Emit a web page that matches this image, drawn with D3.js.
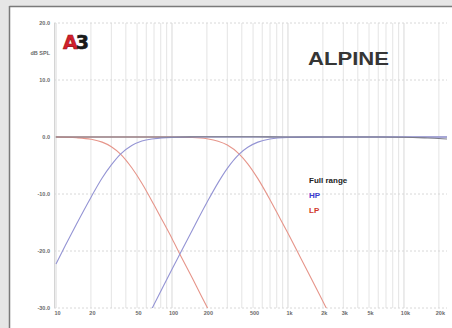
<!DOCTYPE html>
<html><head><meta charset="utf-8">
<script src="https://cdn.jsdelivr.net/npm/d3@7"></script>
<style>
html,body{margin:0;padding:0;background:#e6e6e6;}
svg{display:block;font-family:"Liberation Sans",Arial,sans-serif;}
</style></head>
<body>
<svg id="c" width="452" height="328"></svg>
<script>
// ---- data ----
const yTicks = [20, 10, 0, -10, -20, -30];
const yTickLabels = ["20.0", "10.0", "0.0", "-10.0", "-20.0", "-30.0"];
const xTicks = [10, 20, 50, 100, 200, 500, 1000, 2000, 3000, 5000, 10000, 20000];
const xTickLabels = ["10", "20", "50", "100", "200", "500", "1k", "2k", "3k", "5k", "10k", "20k"];
const gridFreqs = [10,20,30,40,50,60,70,80,90,100,200,300,400,500,600,700,800,900,
                   1000,2000,3000,4000,5000,6000,7000,8000,9000,10000,20000];

const fullFreq = [10, 20, 50, 100, 200, 500, 1000, 2000, 5000, 10000, 15000, 20000, 23500];
const fullDb   = [0.0, 0.0, 0.0, 0.0, 0.05, 0.05, 0.0, 0.0, 0.0, -0.05, -0.15, -0.25, -0.35];

const lp1Freq = [10, 15, 20, 25, 30, 36, 45, 55, 70, 85, 100, 120, 150, 180, 200, 220];
const lp1Db   = [0.0, -0.13, -0.4, -0.9, -1.7, -3.0, -5.4, -8.1, -11.9, -15.1, -17.8, -21.0, -24.8, -28.0, -29.8, -31.4];

const hp1Freq = [10, 12, 15, 20, 25, 30, 36, 45, 55, 70, 100, 150, 300, 1000, 5000, 23500];
const hp1Db   = [-22.3, -19.1, -15.3, -10.6, -7.2, -4.9, -3.0, -1.5, -0.7, -0.3, -0.07, -0.01, 0, 0, 0, 0];

const lp2Freq = [10, 50, 100, 150, 200, 250, 300, 380, 450, 550, 700, 850, 1000, 1300, 1700, 2100, 2400];
const lp2Db   = [0, 0, -0.02, -0.1, -0.32, -0.75, -1.42, -3.0, -4.7, -7.3, -11.0, -14.2, -16.9, -21.4, -26.0, -29.7, -32.0];

const hp2Freq = [60, 70, 85, 100, 120, 150, 200, 250, 300, 380, 450, 550, 700, 1000, 1500, 3000, 10000, 23500];
const hp2Db   = [-32.1, -29.4, -26.0, -23.2, -20.1, -16.3, -11.5, -8.0, -5.5, -3.0, -1.8, -0.9, -0.36, -0.09, -0.02, 0, 0, 0];

const legendNames = ["Full range", "HP", "LP"];
const legendColors = ["#222222", "#3b3bd0", "#d03a2a"];

// ---- drawing ----
const svg = d3.select("#c");
const W = 452, H = 328;
const x = d3.scaleLog().domain([10, 23500]).range([56, 447]);
const y = d3.scaleLinear().domain([-30, 20]).range([308, 23]);

// panel
svg.append("rect").attr("x", 0).attr("y", 0).attr("width", W).attr("height", H).attr("fill", "#e6e6e6");
svg.append("rect").attr("x", 10).attr("y", 7).attr("width", W - 10).attr("height", H - 7).attr("fill", "#ffffff");
svg.append("line").attr("x1", 9.5).attr("x2", W).attr("y1", 6.5).attr("y2", 6.5).attr("stroke", "#7a7a7a").attr("stroke-width", 1.5);
svg.append("line").attr("x1", 9.5).attr("x2", 9.5).attr("y1", 6).attr("y2", H).attr("stroke", "#7a7a7a").attr("stroke-width", 1.5);

const g = svg.append("g");

// vertical grid
g.selectAll("line.vg").data(gridFreqs).join("line")
  .attr("x1", d => x(d)).attr("x2", d => x(d))
  .attr("y1", y(20)).attr("y2", y(-30))
  .attr("stroke", d => [10,100,1000,10000].includes(d) ? "#d8d8d8" : "#e4e4e4")
  .attr("stroke-width", 1);

// horizontal grid
g.selectAll("line.hg").data(yTicks).join("line")
  .attr("x1", x(10) - 2).attr("x2", x(23500))
  .attr("y1", d => y(d)).attr("y2", d => y(d))
  .attr("stroke", d => d === 0 ? "#bdbdbd" : "#d8d8d8")
  .attr("stroke-dasharray", d => d === 0 ? null : "2,2")
  .attr("stroke-width", 1);

// left axis line
g.append("line").attr("x1", x(10) - 1.5).attr("x2", x(10) - 1.5).attr("y1", y(20)).attr("y2", y(-30))
  .attr("stroke", "#d4d4d4");

// y labels
g.selectAll("text.yl").data(yTicks).join("text")
  .attr("x", 50).attr("y", d => y(d) + 2)
  .attr("text-anchor", "end").attr("font-size", 5.5).attr("font-weight", "bold").attr("fill", "#6a6a6a")
  .text((d, i) => yTickLabels[i]);
g.append("text").attr("x", 50).attr("y", 55).attr("text-anchor", "end")
  .attr("font-size", 5.5).attr("font-weight", "bold").attr("fill", "#6a6a6a").text("dB SPL");

// x labels
g.selectAll("text.xl").data(xTicks).join("text")
  .attr("x", d => x(d) + 1.5).attr("y", 315)
  .attr("text-anchor", "middle").attr("font-size", 5.5).attr("font-weight", "bold").attr("fill", "#6a6a6a")
  .text((d, i) => xTickLabels[i]);

// clip
svg.append("clipPath").attr("id", "clip").append("rect")
  .attr("x", x(10) - 1).attr("y", y(20)).attr("width", x(23500) - x(10) + 1).attr("height", y(-30) - y(20));

const line = d3.line().x(d => x(d[0])).y(d => y(d[1])).curve(d3.curveMonotoneX);
const zip = (a, b) => a.map((v, i) => [v, b[i]]);
const curves = [
  {pts: zip(lp1Freq, lp1Db), color: "#e6958a"},
  {pts: zip(lp2Freq, lp2Db), color: "#e6958a"},
  {pts: zip(hp1Freq, hp1Db), color: "#9494d4"},
  {pts: zip(hp2Freq, hp2Db), color: "#9494d4"},
  {pts: zip(fullFreq, fullDb), color: "#7a7a88"}
];
const cg = svg.append("g").attr("clip-path", "url(#clip)");
cg.selectAll("path").data(curves).join("path")
  .attr("d", d => line(d.pts)).attr("fill", "none")
  .attr("stroke", d => d.color).attr("stroke-width", 1.1);

// A3 logo
const logo = svg.append("text").attr("x", 63).attr("y", 49)
  .attr("font-family", "'DejaVu Sans', sans-serif").attr("font-size", 19).attr("font-weight", "bold")
  .attr("letter-spacing", -2).attr("stroke-width", 0.6);
logo.append("tspan").attr("fill", "#d3202c").attr("stroke", "#9a1018").text("A");
logo.append("tspan").attr("fill", "#1a1a1a").attr("stroke", "#1a1a1a").text("3");

// ALPINE
svg.append("text").attr("x", 308).attr("y", 65).attr("font-size", 18).attr("font-weight", "bold")
  .attr("fill", "#353535").attr("textLength", 81).attr("lengthAdjust", "spacingAndGlyphs").text("ALPINE");

// legend
svg.selectAll("text.lg").data(legendNames).join("text")
  .attr("x", 309).attr("y", (d, i) => 183 + i * 15)
  .attr("font-size", 8).attr("font-weight", "bold")
  .attr("fill", (d, i) => legendColors[i]).text(d => d);
</script>
</body></html>
